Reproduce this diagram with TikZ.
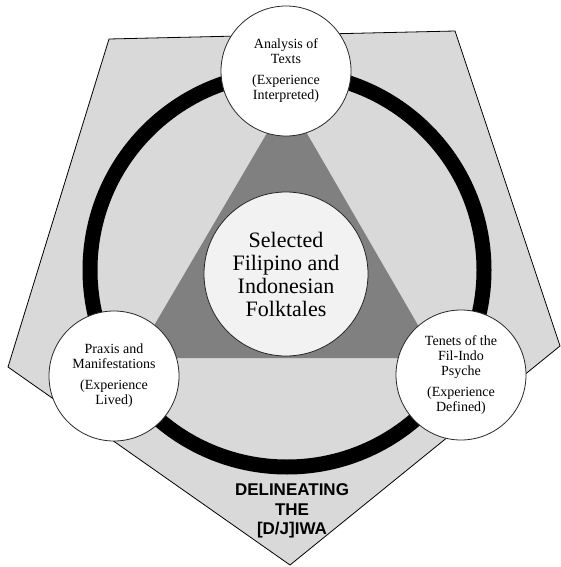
\documentclass[tikz,border=0pt]{standalone}
\usepackage{fontspec}
\setmainfont{Liberation Serif}
\newfontfamily\labelfont{Liberation Sans}
\usepackage{tikz}
\usetikzlibrary{calc}

\definecolor{paleg}{RGB}{217,217,217}
\definecolor{midg}{RGB}{128,128,128}
\definecolor{coreg}{RGB}{242,242,242}

\begin{document}
\begin{tikzpicture}[x=1pt, y=-1pt,
    lens/.style={circle, draw=black!85, line width=0.8pt, fill=white,
        minimum size=130pt, inner sep=0pt, align=center,
        font=\fontsize{14}{15}\selectfont},
    core/.style={lens, fill=coreg, minimum size=164pt,
        font=\fontsize{22}{23}\selectfont}]
    % Fix the frame of the page
    \useasboundingbox (0,0) rectangle (561,567);

    % Draw the pentagon behind everything
    \draw[fill=paleg, line width=0.8pt] (109,39) -- (455,31) -- (560,346)
        -- (290,565) -- (8,367) -- cycle;

    % Draw the thick ring
    \coordinate (ctr) at (287,270);
    \draw[line width=15pt] (ctr) circle (197pt);

    % Draw the triangle between the three readings
    \coordinate (apex) at (287,99);
    \coordinate (lcorner) at (135,358);
    \coordinate (rcorner) at (437,358);
    \fill[midg] (apex) -- (lcorner) -- (rcorner) -- cycle;

    % The core in the middle
    \node[core] (folk) at (286,274)
        {Selected\\Filipino and\\Indonesian\\Folktales};

    % The three readings on the ring
    \foreach \x/\y/\name/\txt in {
        286/71/texts/{Analysis of\\Texts\\[6pt](Experience\\Interpreted)},
        114/376/praxis/{Praxis and\\Manifestations\\[6pt](Experience\\Lived)},
        461/375/tenets/{Tenets of the\\Fil-Indo\\Psyche\\[6pt](Experience\\Defined)}}
    {
        \node[lens] (\name) at (\x,\y) {\txt};
    }

    % Finally the title at the bottom
    \node[align=center, font={\labelfont\bfseries\fontsize{17}{19.5}\selectfont}]
        (title) at (292,511) {DELINEATING\\THE\\{}[D/J]IWA};
\end{tikzpicture}
\end{document}
